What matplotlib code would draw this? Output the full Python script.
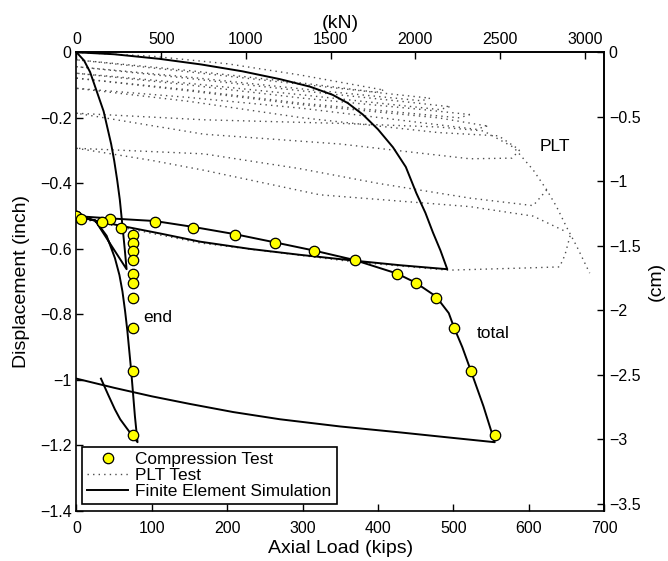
import matplotlib
matplotlib.use("Agg")
import matplotlib.pyplot as plt
from matplotlib.ticker import FuncFormatter

plt.rcParams['font.family'] = ['Liberation Sans', 'DejaVu Sans']

KIP_TO_KN = 4.448222
INCH_TO_CM = 2.54

# compression test: both gauges share the same displacement readings
test_disp = [-0.500, -0.509, -0.517, -0.535, -0.557, -0.581, -0.606, -0.635,
             -0.676, -0.705, -0.750, -0.842, -0.972, -1.168]
test_load_total = [0, 45, 104, 155, 210, 263, 315, 369, 425, 450, 477, 501, 523, 555]
test_load_end = [0, 6, 34, 59, 75, 75, 75, 75, 75, 75, 75, 75, 75, 75]

# finite element simulation, total displacement (PLT cycle, then compression test)
fe_total_load = [0, 50, 110, 165, 220, 270, 310, 340, 360, 380, 400, 420, 437, 451, 463, 473, 483, 492,
                 430, 369, 296, 230, 164, 111, 60, 25, 0,
                 45, 104, 155, 210, 263, 315, 369, 425, 450, 477, 494, 501, 512, 523, 540, 552, 555,
                 500, 429, 350, 270, 208, 150, 100, 50, 0]
fe_total_disp = [0, -0.006, -0.020, -0.037, -0.058, -0.082, -0.105, -0.130, -0.155, -0.190, -0.235, -0.290,
                 -0.350, -0.430, -0.490, -0.550, -0.605, -0.662,
                 -0.650, -0.636, -0.618, -0.600, -0.578, -0.553, -0.530, -0.514, -0.500,
                 -0.507, -0.515, -0.533, -0.555, -0.580, -0.605, -0.634, -0.675, -0.703, -0.745, -0.796,
                 -0.840, -0.900, -0.970, -1.080, -1.168, -1.190,
                 -1.177, -1.160, -1.142, -1.120, -1.098, -1.073, -1.050, -1.024, -0.996]

# finite element simulation, end displacement
fe_end_load = [0, 10, 18, 24, 30, 36, 41, 46, 50, 54, 57.5, 61, 64, 66.5,
               25, 0,
               25, 40, 51, 57, 61, 64.5, 67.5, 70, 72.5, 75, 77.5, 81,
               74, 66.6, 58, 51, 42, 32.5]
fe_end_disp = [0, -0.025, -0.060, -0.100, -0.140, -0.180, -0.230, -0.280, -0.330, -0.390, -0.450, -0.530,
               -0.600, -0.662,
               -0.514, -0.500,
               -0.513, -0.560, -0.628, -0.680, -0.730, -0.790, -0.850, -0.910, -0.970, -1.040, -1.110, -1.190,
               -1.170, -1.147, -1.120, -1.090, -1.045, -0.996]

# plate load test, one list per loading / unloading branch
plt_loads = [
    [0, 100, 200, 296, 407],
    [407, 398, 300, 150, 0],
    [0, 150, 300, 420, 469],
    [469, 458, 300, 150, 0],
    [0, 150, 300, 440, 495],
    [495, 482, 300, 150, 0],
    [0, 150, 300, 460, 522],
    [522, 508, 300, 150, 0],
    [0, 150, 300, 480, 545],
    [545, 530, 300, 150, 0],
    [0, 150, 300, 480, 560, 588],
    [588, 578, 522, 350, 169, 0],
    [0, 169, 350, 480, 540, 580, 606, 624, 637, 650, 664, 681],
    [624, 606, 522, 400, 296, 169, 0],
    [0, 100, 169, 323, 522, 606, 650],
    [655, 648, 641, 600, 493, 369, 164, 25, 0],
]
plt_disps = [
    [0, -0.012, -0.035, -0.069, -0.115],
    [-0.115, -0.122, -0.094, -0.056, -0.023],
    [-0.023, -0.060, -0.098, -0.128, -0.140],
    [-0.140, -0.148, -0.112, -0.076, -0.044],
    [-0.044, -0.080, -0.118, -0.152, -0.166],
    [-0.166, -0.175, -0.130, -0.095, -0.064],
    [-0.064, -0.100, -0.140, -0.175, -0.190],
    [-0.190, -0.200, -0.156, -0.115, -0.079],
    [-0.079, -0.118, -0.160, -0.200, -0.225],
    [-0.225, -0.235, -0.171, -0.138, -0.110],
    [-0.110, -0.150, -0.200, -0.245, -0.255, -0.298],
    [-0.298, -0.323, -0.325, -0.280, -0.250, -0.186],
    [-0.186, -0.206, -0.217, -0.228, -0.240, -0.290, -0.359, -0.420, -0.471, -0.532, -0.593, -0.674],
    [-0.420, -0.468, -0.445, -0.400, -0.355, -0.310, -0.293],
    [-0.293, -0.330, -0.360, -0.435, -0.471, -0.500, -0.548],
    [-0.560, -0.620, -0.655, -0.658, -0.665, -0.640, -0.582, -0.518, -0.503],
]

fig = plt.figure(figsize=(6.68, 5.61), dpi=100)
ax = fig.add_axes([0.1145, 0.0891, 0.7897, 0.8177])

dot_style = dict(color='0.3', lw=1.0, linestyle=(0, (1, 3)))
for i, (xs, ys) in enumerate(zip(plt_loads, plt_disps)):
    ax.plot(xs, ys, label='PLT Test' if i == 0 else None, **dot_style)

ax.plot(fe_total_load, fe_total_disp, color='k', lw=1.4, label='Finite Element Simulation')
ax.plot(fe_end_load, fe_end_disp, color='k', lw=1.4)

ax.plot(test_load_total, test_disp, linestyle='none', marker='o', ms=7.5,
        mfc='#ffff00', mec='k', mew=0.9, label='Compression Test', zorder=5)
ax.plot(test_load_end, test_disp, linestyle='none', marker='o', ms=7.5,
        mfc='#ffff00', mec='k', mew=0.9, zorder=5)

ax.text(88, -0.808, 'end', fontsize=12.5, va='center')
ax.text(531, -0.857, 'total', fontsize=12.5, va='center')
ax.text(615, -0.288, 'PLT', fontsize=12.5, va='center')

ax.set_xlim(0, 700)
ax.set_ylim(-1.4, 0)
ax.set_xticks(range(0, 701, 100))
ax.set_yticks([0, -0.2, -0.4, -0.6, -0.8, -1.0, -1.2, -1.4])
fmt = FuncFormatter(lambda v, p: ('%g' % v).replace('-', '\u2212'))
ax.yaxis.set_major_formatter(fmt)
ax.set_xlabel('Axial Load (kips)', fontsize=14, labelpad=3)
ax.set_ylabel('Displacement (inch)', fontsize=14, labelpad=7)

top = ax.secondary_xaxis('top', functions=(lambda x: x * KIP_TO_KN, lambda x: x / KIP_TO_KN))
top.set_xticks(range(0, 3001, 500))
top.set_xlabel('(kN)', fontsize=14, labelpad=3)

right = ax.secondary_yaxis('right', functions=(lambda y: y * INCH_TO_CM, lambda y: y / INCH_TO_CM))
right.set_yticks([0, -0.5, -1, -1.5, -2, -2.5, -3, -3.5])
right.yaxis.set_major_formatter(fmt)
right.set_ylabel('(cm)', fontsize=14, labelpad=5)

for a in (ax, top, right):
    a.tick_params(direction='in', length=5, width=1, labelsize=11.5)
ax.tick_params(axis='x', pad=7)
for s in ax.spines.values():
    s.set_linewidth(1.2)
top.spines['top'].set_linewidth(1.2)
right.spines['right'].set_linewidth(1.2)

order = ['Compression Test', 'PLT Test', 'Finite Element Simulation']
h, l = ax.get_legend_handles_labels()
hl = dict(zip(l, h))
leg = ax.legend([hl[k] for k in order], order, loc='lower left', bbox_to_anchor=(0.0104, 0.0153),
                borderaxespad=0, fontsize=12.4, fancybox=False, edgecolor='k', framealpha=1,
                handlelength=2.4, handletextpad=0.4, labelspacing=0.05, borderpad=0.3, numpoints=1)
leg.get_frame().set_linewidth(1.2)

fig.savefig('out.png', dpi=100)
